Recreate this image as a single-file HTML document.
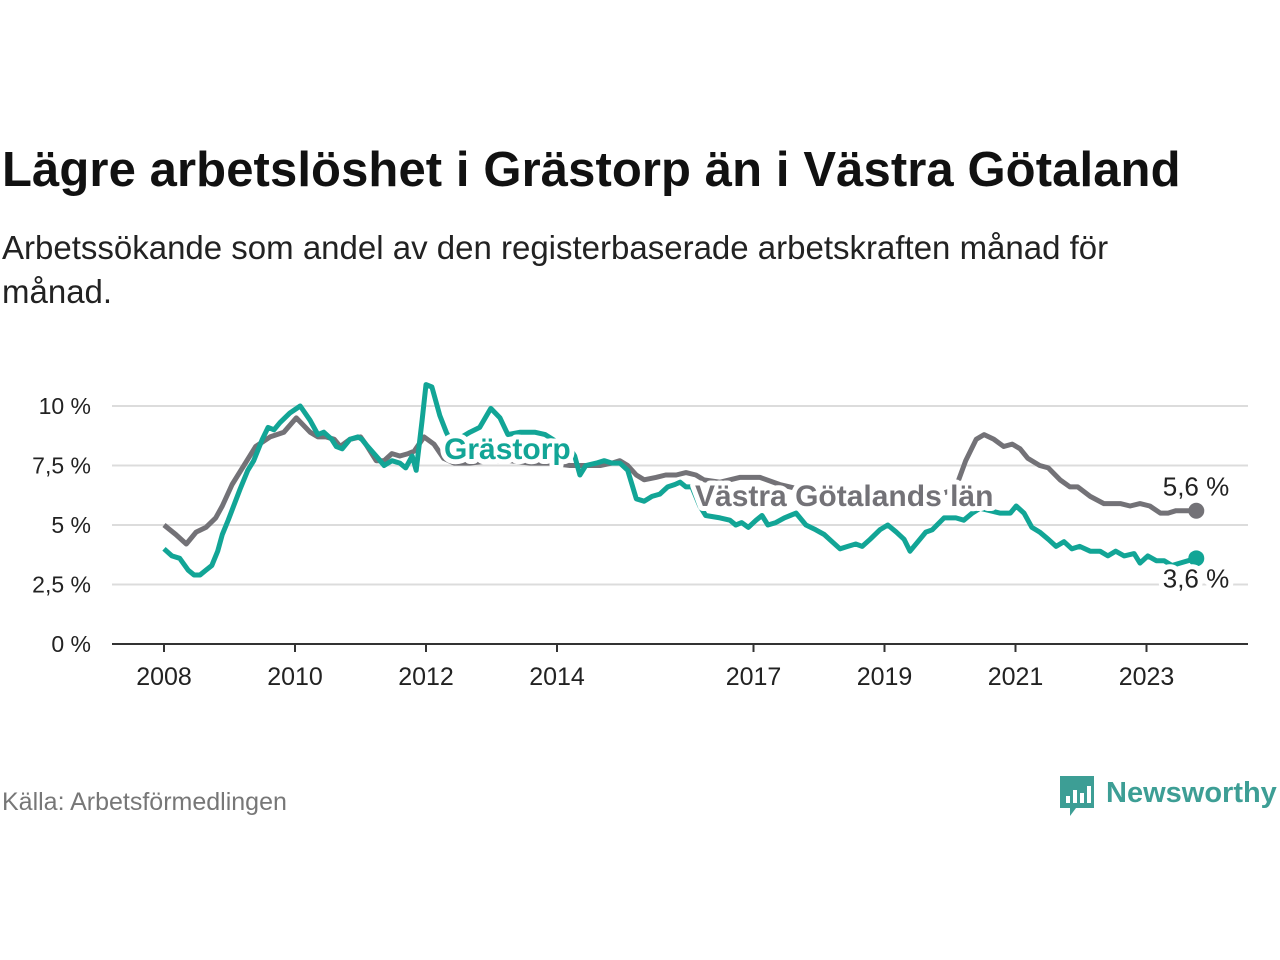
<!DOCTYPE html>
<html><head><meta charset="utf-8">
<style>
body{margin:0;background:#fff;width:1280px;height:960px;overflow:hidden;font-family:"Liberation Sans",sans-serif;position:relative}
#title{position:absolute;left:2px;top:142px;font-size:49px;font-weight:bold;color:#111;margin:0;letter-spacing:0.1px}
#sub{position:absolute;left:2px;top:226px;font-size:33px;color:#222;line-height:44px;width:1178px}
#src{position:absolute;left:2px;top:788px;font-size:25px;color:#777}
svg{position:absolute;left:0;top:0}
</style></head><body>
<h1 id="title">Lägre arbetslöshet i Grästorp än i Västra Götaland</h1>
<div id="sub">Arbetssökande som andel av den registerbaserade arbetskraften månad för månad.</div>
<div id="src">Källa: Arbetsförmedlingen</div>
<svg id="chart" width="1280" height="960"></svg>
<script>
const yTicks=[0,2.5,5,7.5,10];
const yTickLabels=["0 %","2,5 %","5 %","7,5 %","10 %"];
const xTicks=[2008,2010,2012,2014,2017,2019,2021,2023];
const grastorpYears=[2008.00,2008.12,2008.24,2008.37,2008.46,2008.55,2008.64,2008.73,2008.82,2008.89,2008.98,2009.16,2009.28,2009.37,2009.50,2009.59,2009.68,2009.77,2009.92,2010.08,2010.23,2010.35,2010.44,2010.56,2010.63,2010.72,2010.84,2010.96,2011.02,2011.08,2011.27,2011.36,2011.48,2011.60,2011.69,2011.79,2011.85,2011.94,2012.00,2012.09,2012.21,2012.31,2012.40,2012.55,2012.67,2012.82,2012.99,2013.13,2013.25,2013.44,2013.66,2013.82,2014.05,2014.20,2014.27,2014.35,2014.44,2014.60,2014.72,2014.84,2014.96,2015.08,2015.21,2015.33,2015.45,2015.57,2015.69,2015.80,2015.88,2015.97,2016.06,2016.18,2016.27,2016.49,2016.64,2016.73,2016.82,2016.92,2017.04,2017.13,2017.22,2017.34,2017.47,2017.56,2017.65,2017.80,2017.95,2018.08,2018.20,2018.32,2018.44,2018.56,2018.66,2018.78,2018.93,2019.05,2019.18,2019.30,2019.39,2019.51,2019.63,2019.73,2019.91,2020.09,2020.21,2020.34,2020.46,2020.61,2020.76,2020.92,2021.01,2021.13,2021.25,2021.37,2021.50,2021.62,2021.74,2021.86,2021.98,2022.14,2022.29,2022.41,2022.53,2022.66,2022.81,2022.90,2023.02,2023.15,2023.27,2023.39,2023.51,2023.76];
const grastorpValues=[4.0,3.7,3.6,3.1,2.9,2.9,3.1,3.3,3.9,4.6,5.2,6.5,7.3,7.7,8.6,9.1,9.0,9.3,9.7,10.0,9.4,8.8,8.9,8.6,8.3,8.2,8.6,8.7,8.6,8.4,7.8,7.5,7.7,7.6,7.4,7.9,7.3,9.4,10.9,10.8,9.6,8.9,8.4,8.7,8.9,9.1,9.9,9.5,8.8,8.9,8.9,8.8,8.4,8.2,7.9,7.1,7.5,7.6,7.7,7.6,7.6,7.3,6.1,6.0,6.2,6.3,6.6,6.7,6.8,6.6,6.6,5.8,5.4,5.3,5.2,5.0,5.1,4.9,5.2,5.4,5.0,5.1,5.3,5.4,5.5,5.0,4.8,4.6,4.3,4.0,4.1,4.2,4.1,4.4,4.8,5.0,4.7,4.4,3.9,4.3,4.7,4.8,5.3,5.3,5.2,5.5,5.7,5.6,5.5,5.5,5.8,5.5,4.9,4.7,4.4,4.1,4.3,4.0,4.1,3.9,3.9,3.7,3.9,3.7,3.8,3.4,3.7,3.5,3.5,3.3,3.4,3.6];
const lanYears=[2008.00,2008.18,2008.34,2008.49,2008.64,2008.79,2008.89,2009.04,2009.22,2009.40,2009.62,2009.83,2010.02,2010.23,2010.35,2010.47,2010.60,2010.69,2010.84,2011.00,2011.08,2011.24,2011.36,2011.48,2011.60,2011.73,2011.82,2011.97,2012.12,2012.27,2012.43,2012.67,2012.98,2013.28,2013.59,2013.89,2014.20,2014.44,2014.66,2014.84,2014.96,2015.08,2015.21,2015.33,2015.51,2015.66,2015.82,2015.97,2016.12,2016.24,2016.49,2016.79,2016.95,2017.10,2017.40,2017.71,2018.02,2018.32,2018.63,2018.93,2019.24,2019.54,2019.85,2020.08,2020.24,2020.40,2020.52,2020.67,2020.82,2020.95,2021.07,2021.19,2021.37,2021.50,2021.68,2021.83,2021.95,2022.14,2022.35,2022.60,2022.75,2022.90,2023.05,2023.21,2023.33,2023.45,2023.76];
const lanValues=[5.0,4.6,4.2,4.7,4.9,5.3,5.8,6.7,7.5,8.3,8.7,8.9,9.5,8.9,8.7,8.7,8.6,8.3,8.6,8.7,8.4,7.7,7.7,8.0,7.9,8.0,8.1,8.7,8.4,7.8,7.6,7.6,7.7,7.7,7.6,7.6,7.5,7.5,7.5,7.6,7.7,7.5,7.1,6.9,7.0,7.1,7.1,7.2,7.1,6.9,6.8,7.0,7.0,7.0,6.7,6.5,6.3,6.1,5.8,5.8,5.8,6.1,6.3,6.5,7.7,8.6,8.8,8.6,8.3,8.4,8.2,7.8,7.5,7.4,6.9,6.6,6.6,6.2,5.9,5.9,5.8,5.9,5.8,5.5,5.5,5.6,5.6];

const svg=document.getElementById('chart');
const NS='http://www.w3.org/2000/svg';
const X0=164,XPY=65.5,Y0=644,YP=23.8;
const xs=y=>X0+(y-2008)*XPY;
const ys=v=>Y0-v*YP;
function mk(t,a,txt){const e=document.createElementNS(NS,t);for(const k in a)e.setAttribute(k,a[k]);if(txt!==undefined)e.textContent=txt;svg.appendChild(e);return e;}
const TEAL='#12a596',GRAY='#737277';
yTicks.forEach((t,i)=>{
  if(t>0){const g=mk('line',{x1:112,x2:1248,y1:ys(t),y2:ys(t),stroke:'#dcdcdc','stroke-width':2});
  
  }
  const l=mk('text',{x:91,y:ys(t)+8,'text-anchor':'end','font-size':23,fill:'#222'},yTickLabels[i]);
  
  
});
const ax=mk('line',{x1:112,x2:1248,y1:Y0,y2:Y0,stroke:'#333','stroke-width':2});


xTicks.forEach(t=>{
  const tk=mk('line',{x1:xs(t),x2:xs(t),y1:Y0,y2:Y0+8,stroke:'#333','stroke-width':2});
  
  
  const l=mk('text',{x:xs(t),y:685,'text-anchor':'middle','font-size':25,fill:'#222'},String(t));
  
  
});
function path(xsA,vs){return xsA.map((y,i)=>(i?'L':'M')+xs(y).toFixed(1)+','+ys(vs[i]).toFixed(1)).join('');}
const lp=mk('path',{d:path(lanYears,lanValues),fill:'none',stroke:GRAY,'stroke-width':5,'stroke-linejoin':'round'});


const gp=mk('path',{d:path(grastorpYears,grastorpValues),fill:'none',stroke:TEAL,'stroke-width':5,'stroke-linejoin':'round'});


const lastL=lanValues.length-1,lastG=grastorpValues.length-1;
const d1=mk('circle',{cx:xs(lanYears[lastL]),cy:ys(lanValues[lastL]),r:8,fill:GRAY});


const d2=mk('circle',{cx:xs(grastorpYears[lastG]),cy:ys(grastorpValues[lastG]),r:8,fill:TEAL});


const halo={stroke:'#fff','stroke-width':10,'paint-order':'stroke','stroke-linejoin':'round'};
const e1=mk('text',Object.assign({x:1196,y:ys(lanValues[lastL])-15,'text-anchor':'middle','font-size':26,fill:'#222'},halo),lanValues[lastL].toFixed(1).replace('.',',')+' %');


const e2=mk('text',Object.assign({x:1196,y:ys(grastorpValues[lastG])+29,'text-anchor':'middle','font-size':26,fill:'#222'},halo),grastorpValues[lastG].toFixed(1).replace('.',',')+' %');


const s1=mk('text',Object.assign({x:444,y:459,'font-size':30,'font-weight':'bold',fill:TEAL},halo),'Grästorp');


const s2=mk('text',Object.assign({x:695,y:506,'font-size':30,'font-weight':'bold',fill:GRAY},halo),'Västra Götalands län');


// logo
const lg=mk('g',{});


lg.innerHTML='<path d="M1060 776h34v32h-18l-6 8v-8h-10z" fill="#3d9e95"/><rect x="1066" y="796" width="4" height="7" fill="#fff"/><rect x="1073" y="790" width="4" height="13" fill="#fff"/><rect x="1080" y="793" width="4" height="10" fill="#fff"/><rect x="1087" y="786" width="4" height="17" fill="#fff"/><text x="1106" y="802" font-size="29" font-weight="bold" fill="#3d9e95">Newsworthy</text>';
svg.appendChild(lg);
</script>
</body></html>
